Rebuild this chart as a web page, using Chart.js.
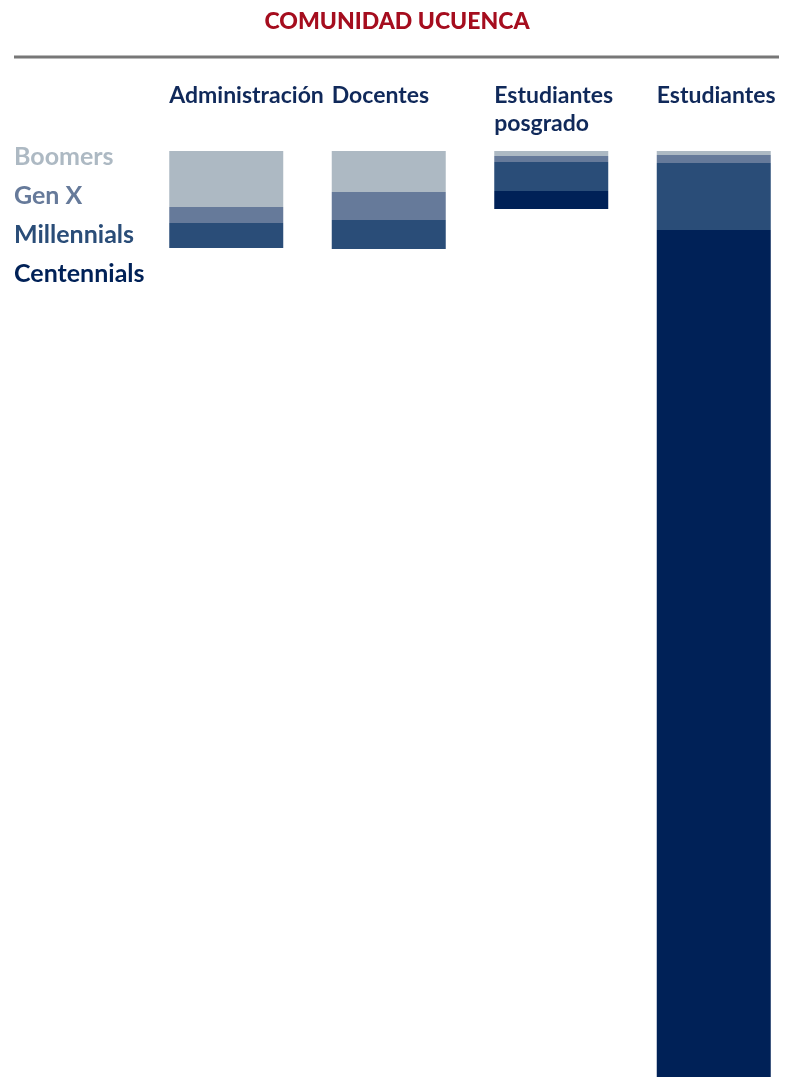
<!DOCTYPE html>
<html>
<head>
<meta charset="utf-8">
<script src="https://cdn.jsdelivr.net/npm/chart.js@4.4.1/dist/chart.umd.min.js"></script>
<style>
  html, body { margin: 0; padding: 0; background: #fff; overflow: hidden; }
  canvas { display: block; }
</style>
</head>
<body>
<canvas id="genChart" width="800" height="1077"></canvas>
<script>
// Data (one unit ~ one pixel of bar length)
const categories = [['Administración'], ['Docentes'], ['Estudiantes', 'posgrado'], ['Estudiantes']];
const generations = ['Boomers', 'Gen X', 'Millennials', 'Centennials'];
const boomers = [56, 41, 5, 4];
const genX = [16, 28, 6, 8];
const millennials = [25, 29, 29, 67];
const centennials = [0, 0, 18, 847];
const genColors = ['#adb9c3', '#667a9a', '#2a4d78', '#002157'];

const FONT = '"Lato", sans-serif';

// Draw title, rule, column headers and legend on the canvas
const decorPlugin = {
  id: 'decor',
  afterDraw(chart) {
    const c = chart.ctx;
    c.save();
    c.textBaseline = 'middle';

    c.fillStyle = '#a50d1e';
    c.textAlign = 'center';
    c.font = '900 23px ' + FONT;
    c.fillText('COMUNIDAD UCUENCA', 397, 22);

    c.strokeStyle = '#777777';
    c.lineWidth = 3;
    c.beginPath();
    c.moveTo(14, 57);
    c.lineTo(779, 57);
    c.stroke();

    c.textAlign = 'left';
    c.font = 'bold 23px ' + FONT;
    c.fillStyle = '#10295a';
    const bars = chart.getDatasetMeta(0).data;
    bars.forEach((bar, i) => {
      const left = bar.x - bar.width / 2;
      categories[i].forEach((line, j) => c.fillText(line, left, 96 + j * 28));
    });

    c.font = 'bold 25px ' + FONT;
    generations.forEach((g, i) => {
      c.fillStyle = genColors[i];
      c.fillText(g, 14, 157 + i * 39);
    });
    c.restore();
  }
};

const ctx = document.getElementById('genChart').getContext('2d');
const genChart = new Chart(ctx, {
  type: 'bar',
  data: {
    labels: categories.map(l => l.join(' ')),
    datasets: [
      { label: generations[0], data: boomers, backgroundColor: genColors[0] },
      { label: generations[1], data: genX, backgroundColor: genColors[1] },
      { label: generations[2], data: millennials, backgroundColor: genColors[2] },
      { label: generations[3], data: centennials, backgroundColor: genColors[3] }
    ]
  },
  options: {
    responsive: false,
    animation: false,
    layout: { padding: { left: 145, top: 151, right: 5, bottom: 0 } },
    datasets: {
      bar: { barPercentage: 0.7015, categoryPercentage: 1, borderWidth: 0 }
    },
    scales: {
      x: { stacked: true, display: false },
      y: { stacked: true, display: false, reverse: true, min: 0, max: 926 }
    },
    plugins: {
      legend: { display: false },
      tooltip: { enabled: false }
    }
  },
  plugins: [decorPlugin]
});
</script>
</body>
</html>
